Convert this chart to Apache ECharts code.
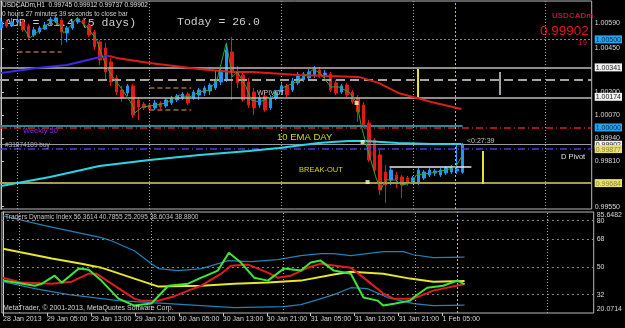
<!DOCTYPE html>
<html><head><meta charset="utf-8">
<script src="https://cdn.jsdelivr.net/npm/echarts@6/dist/echarts.min.js"></script>
<style>html,body{margin:0;padding:0;background:#000}#c{width:625px;height:328px}</style>
</head><body><div id="c"></div>
<script>
// ---- data (bar index 0 = 28 Jan 21:00, H1 bars) ----
const candles = [ // [open, close, low, high]
[1.00565,1.00599,1.00554,1.00622],[1.00599,1.00576,1.00565,1.00610],[1.00576,1.00599,1.00571,1.00622],
[1.00599,1.00610,1.00588,1.00627],[1.00599,1.00554,1.00542,1.00610],[1.00576,1.00514,1.00503,1.00588],
[1.00525,1.00554,1.00514,1.00571],[1.00542,1.00565,1.00531,1.00576],[1.00559,1.00582,1.00554,1.00599],
[1.00588,1.00616,1.00582,1.00627],[1.00605,1.00622,1.00593,1.00633],[1.00610,1.00542,1.00468,1.00622],
[1.00537,1.00565,1.00485,1.00576],[1.00565,1.00599,1.00554,1.00605],[1.00599,1.00616,1.00588,1.00627],
[1.00610,1.00588,1.00576,1.00622],[1.00582,1.00525,1.00514,1.00593],[1.00542,1.00457,1.00440,1.00554],
[1.00485,1.00383,1.00355,1.00497],[1.00451,1.00315,1.00270,1.00480],[1.00372,1.00258,1.00236,1.00395],
[1.00281,1.00201,1.00184,1.00298],[1.00213,1.00167,1.00145,1.00236],[1.00196,1.00236,1.00179,1.00247],
[1.00236,1.00071,1.00054,1.00247],[1.00156,1.00116,1.00042,1.00173],[1.00133,1.00111,1.00099,1.00145],
[1.00128,1.00105,1.00088,1.00139],[1.00111,1.00139,1.00099,1.00156],[1.00139,1.00116,1.00105,1.00150],
[1.00122,1.00156,1.00111,1.00167],[1.00139,1.00167,1.00128,1.00179],[1.00156,1.00179,1.00145,1.00190],
[1.00167,1.00190,1.00156,1.00201],[1.00190,1.00139,1.00128,1.00201],[1.00167,1.00201,1.00156,1.00213],
[1.00184,1.00213,1.00156,1.00224],[1.00196,1.00224,1.00179,1.00236],[1.00207,1.00241,1.00184,1.00253],
[1.00224,1.00270,1.00213,1.00326],[1.00258,1.00315,1.00241,1.00338],[1.00270,1.00440,1.00258,1.00480],
[1.00429,1.00315,1.00156,1.00514],[1.00315,1.00253,1.00224,1.00349],[1.00298,1.00156,1.00145,1.00315],
[1.00258,1.00128,1.00111,1.00281],[1.00201,1.00111,1.00071,1.00224],[1.00128,1.00167,1.00111,1.00184],
[1.00179,1.00099,1.00088,1.00196],[1.00111,1.00167,1.00099,1.00184],[1.00167,1.00201,1.00156,1.00213],
[1.00201,1.00236,1.00190,1.00253],[1.00236,1.00184,1.00173,1.00247],[1.00213,1.00264,1.00201,1.00281],
[1.00253,1.00292,1.00241,1.00315],[1.00270,1.00304,1.00258,1.00315],[1.00281,1.00315,1.00270,1.00332],
[1.00298,1.00338,1.00281,1.00349],[1.00326,1.00292,1.00281,1.00343],[1.00292,1.00309,1.00270,1.00326],
[1.00304,1.00213,1.00201,1.00315],[1.00253,1.00196,1.00184,1.00270],[1.00201,1.00236,1.00190,1.00247],
[1.00241,1.00184,1.00173,1.00253],[1.00201,1.00145,1.00133,1.00213],[1.00167,1.00088,1.00031,1.00184],
[1.00128,1.00014,0.99997,1.00145],[1.00025,0.99815,0.99804,1.00042],[0.99929,0.99758,0.99747,0.99940],
[0.99844,0.99645,0.99616,0.99872],[0.99747,0.99673,0.99571,0.99787],[0.99702,0.99758,0.99673,0.99770],
[0.99730,0.99702,0.99656,0.99747],[0.99719,0.99673,0.99599,0.99730],[0.99713,0.99685,0.99668,0.99724],
[0.99690,0.99713,0.99679,0.99724],[0.99685,0.99758,0.99673,0.99770],[0.99713,0.99747,0.99702,0.99758],
[0.99730,0.99758,0.99719,0.99770],[0.99741,0.99753,0.99724,0.99764],[0.99730,0.99758,0.99719,0.99770],
[0.99741,0.99770,0.99730,0.99781],[0.99747,0.99775,0.99736,0.99787],[0.99753,0.99764,0.99736,0.99900],
[0.99745,0.99902,0.99737,0.99912]
];
const greenLine = [[4,1.00571],[5.2,1.00508],[7.6,1.00565],[9.4,1.00610],[10.7,1.00582],[11.4,1.00537],[12.5,1.00571],[13.8,1.00622],[15.8,1.00565],[17.4,1.00497],[18,1.00440],[19.2,1.00343],[20.7,1.00270],[22.1,1.00213],[23.9,1.00128],[24.3,1.00082],[25.7,1.00116],[28.3,1.00128],[30.1,1.00139],[32.4,1.00184],[34.3,1.00173],[36.1,1.00201],[37.9,1.00213],[39.3,1.00270],[41,1.00480],[42.1,1.00287],[43,1.00315],[44.6,1.00230],[45.5,1.00156],[47,1.00145],[49.3,1.00173],[51.1,1.00224],[53.7,1.00258],[56,1.00309],[56.9,1.00332],[58.4,1.00298],[60,1.00230],[61.5,1.00230],[63.3,1.00201],[64.7,1.00145],[65.6,1.00003],[66.9,0.99855],[68.2,0.99719],[69.1,0.99645],[70,0.99702],[71.8,0.99702],[72.9,0.99673],[74.7,0.99685],[75.6,0.99730],[78.3,0.99741],[80.9,0.99758],[82.7,0.99775],[83.8,0.99832]];
const maRising = [[0,1.00309],[6.5,1.00338],[12,1.00355],[18,1.00400],[19.7,1.00406]];
const maFalling = [[19.7,1.00406],[21,1.00395],[27,1.00366],[36,1.00332],[42,1.00315],[45.7,1.00315],[54.2,1.00298],[59.6,1.00292],[65.1,1.00287],[68.7,1.00253],[72.3,1.00196],[78.3,1.00145],[83.8,1.00105]];
const ema10Day = [[0,0.99668],[8.9,0.99719],[17.9,0.99781],[27,0.99815],[36.1,0.99844],[45.1,0.99866],[50.6,0.99883],[57.8,0.99912],[60.2,0.99917],[63.3,0.99923],[66.3,0.99923],[72.3,0.99912],[78.3,0.99906],[83.8,0.99906]];
const weekly50 = [[0,1.00008],[84,1.00008]];
const signalDots = [[64.7,1.00139],[65.8,0.99917],[66.7,0.99690]];
// horizontal levels
const resistLevel = 1.00500, upperLevel = 1.00341, dashLevel = 1.00269, lowerLevel = 1.00170;
const parityLevel = 1.00000, bidPrice = 0.99902, dPivot = 0.99877, breakLow = 0.99684;
const breakHigh = [70.7, 85.6, 0.99775];               // [fromBar, toBar, price]
const brownDashes = [[3,11,1.00429],[27,34.6,1.00224],[27,34.6,1.00099]];
const orangeDots = [[51,59.3,1.00338],[51,59.3,1.00167]];
const yellowBars = [[75.8,1.00332,1.00173],[87.6,0.99866,0.99679]]; // [bar, top, bottom]
const whiteBars = [[90.7,1.00315,1.00184]];
// grid / ticks
const dayLines = [3,27,51,75,99];
const nowBar = 82.7;
const timeTicks = [0,8,16,24,32,40,48,56,64,72,80];
const timeLabels = ['28 Jan 2013','29 Jan 05:00','29 Jan 13:00','29 Jan 21:00','30 Jan 05:00','30 Jan 13:00','30 Jan 21:00','31 Jan 05:00','31 Jan 13:00','31 Jan 21:00','1 Feb 05:00'];
const priceTicks = [1.00590,1.00450,1.00200,1.00070,0.99940,0.99810,0.99550];
const blueBoxes = [1.00500,1.00000];
const whiteBoxes = [1.00341,1.00174,0.99902];
const yellowBoxes = [0.99877,0.99684];
const tdiTicks = [80,68,85.6482,50,32,20.0714];
const tdiLevels = [80,68,50,32];
// Traders Dynamic Index
const tdiUpper = [[0,83.2],[7.6,76.8],[17.9,69.0],[19.7,67.0],[23.9,60.5],[27,52.0],[28.3,48.9],[31.9,47.6],[36.1,48.9],[41,54.1],[45.1,53.4],[50,54.7],[54.2,57.3],[57.8,58.6],[60.2,58.6],[63.3,57.3],[69.2,59.9],[72.9,59.9],[74.7,57.9],[78.3,56.0],[84,56.36]];
const tdiLower = [[0,40.4],[5.8,35.9],[12,32.0],[21,28.1],[30.1,26.2],[42.1,23.6],[51.1,24.2],[54.2,25.5],[57.3,28.8],[60.2,32.0],[63.3,36.5],[66.3,35.9],[70,30.1],[74.7,26.2],[78.3,24.9],[84,25.21]];
const tdiMid = [[0,61.8],[8.9,55.4],[14.3,52.1],[17.9,49.5],[23.9,42.4],[28.3,37.2],[36.1,37.8],[42.1,39.1],[48.2,39.8],[54.2,41.1],[60.2,45.0],[63.3,46.9],[69.2,45.6],[74.1,42.4],[78.3,40.4],[84,40.79]];
const tdiSignal = [[0,43.0],[3.4,39.8],[8.9,39.1],[12.5,40.4],[15.6,45.6],[17,45.6],[20.3,37.8],[23.9,29.4],[25.2,28.1],[28.3,28.1],[31.2,31.0],[33.7,34.6],[36.1,37.8],[39.7,45.6],[41.5,50.8],[44.6,51.5],[48.2,46.3],[50,43.0],[52.4,44.3],[55.5,49.5],[57.8,52.1],[63.3,49.5],[66.3,41.1],[69.2,32.7],[71.1,29.4],[74.7,29.4],[78.3,34.6],[84,38.88]];
const tdiRsi = [[0,41.1],[5.8,37.8],[7.1,39.1],[9.4,44.3],[10.7,39.8],[13.8,48.9],[15.6,48.2],[17.9,41.1],[21,29.4],[23.9,24.9],[27,26.2],[30.1,37.8],[33.7,39.1],[36.1,43.0],[39.1,47.6],[41.1,59.2],[43.3,52.8],[45.7,43.0],[48.2,41.1],[51.1,48.9],[54.2,47.6],[56,52.8],[57.8,54.1],[60.2,47.6],[63.3,45.6],[65.6,30.1],[68.2,28.1],[69.2,24.9],[71.4,26.2],[74.1,28.1],[74.7,30.1],[77.2,36.5],[80.1,37.8],[82.7,41.1],[84,38.6]];

// ---- chart ----
const X0 = -0.2, X1 = 107.5, P0 = 0.99537, P1 = 1.00718, T0 = 20.0714, T1 = 85.6482;
const chart = echarts.init(document.getElementById('c'), null, {renderer:'canvas'});
const F = "'Liberation Sans', Arial, sans-serif";
const key = v => v.toFixed(5);
const boxKind = {};
blueBoxes.forEach(v => boxKind[key(v)] = 'b');
whiteBoxes.forEach(v => boxKind[key(v)] = 'w');
yellowBoxes.forEach(v => boxKind[key(v)] = 'y');

const seg = (x0, x1, v, color, type, width) => [{coord:[x0, v], lineStyle:{color, type, width}}, {coord:[x1, v]}];
const hLine = (v, color, type, width) => seg(X0, X1, v, color, type, width);
const vseg = (x, v0, v1, color, type, width) => [{coord:[x, v0], lineStyle:{color, type, width}}, {coord:[x, v1]}];
const vLines = (lo, hi) => dayLines.map(d => vseg(d, lo, hi, '#a8a8a8', [1,2], 1))
   .concat([vseg(nowBar, lo, hi, '#d8c030', [2,2], 1)]);

const mlBase = {symbol:['none','none'], silent:true, animation:false, label:{show:false}};
const lineS = (data, color, width, xi, yi, z) => ({type:'line', data, xAxisIndex:xi, yAxisIndex:yi, showSymbol:false, symbol:'none', lineStyle:{color, width}, z: z||3, animation:false, silent:true});

const option = {
  backgroundColor:'#000',
  animation:false,
  grid:[
    {left:0, top:1, width:594, height:208, show:true, borderColor:'#b8b8b8', borderWidth:1, backgroundColor:'transparent'},
    {left:0, top:212, width:594, height:101, show:true, borderColor:'#b8b8b8', borderWidth:1, backgroundColor:'transparent'}
  ],
  xAxis:[
    {type:'value', gridIndex:0, min:X0, max:X1, axisLine:{show:false}, axisTick:{show:false}, axisLabel:{show:false}, splitLine:{show:false}},
    {type:'value', gridIndex:1, min:X0, max:X1, axisLine:{show:false}, splitLine:{show:false},
     axisTick:{show:true, customValues:timeTicks, length:3, lineStyle:{color:'#c8c8c8'}},
     axisLabel:{show:true, customValues:timeTicks, color:'#d8d8d8', fontSize:7, fontFamily:F, align:'left', margin:3,
       showMinLabel:true, showMaxLabel:true,
       formatter: v => timeLabels[timeTicks.indexOf(v)] || ''}}
  ],
  yAxis:[
    {type:'value', gridIndex:0, position:'right', min:P0, max:P1,
     axisLine:{show:true, lineStyle:{color:'#c8c8c8'}}, splitLine:{show:false},
     axisTick:{show:true, customValues:priceTicks, length:3, lineStyle:{color:'#c8c8c8'}},
     axisLabel:{show:true, customValues: priceTicks.concat(blueBoxes, whiteBoxes, yellowBoxes), margin:3, fontFamily:F, fontSize:7, color:'#d8d8d8',
       showMinLabel:true, showMaxLabel:true,
       formatter: v => { const k = boxKind[key(v)]; const t = key(v); return k ? '{' + k + '|' + t + '}' : t; },
       rich:{
         b:{backgroundColor:'#27a6ee', color:'#0a2a40', fontSize:7, fontFamily:F, padding:[1,1,0,1]},
         w:{backgroundColor:'#f2f2f2', color:'#202020', fontSize:7, fontFamily:F, padding:[1,1,0,1]},
         y:{backgroundColor:'#e8e070', color:'#8a8440', fontSize:7, fontFamily:F, padding:[1,1,0,1]}
       }}},
    {type:'value', gridIndex:1, position:'right', min:T0, max:T1,
     axisLine:{show:true, lineStyle:{color:'#c8c8c8'}}, splitLine:{show:false},
     axisTick:{show:false},
     axisLabel:{show:true, customValues:tdiTicks, margin:3, fontFamily:F, fontSize:7, color:'#d8d8d8',
       hideOverlap:false,
       formatter: v => {
         if (Math.abs(v - T1) < 1e-3) return '{top|' + T1.toFixed(4) + '}';
         if (Math.abs(v - T0) < 1e-3) return '{bot|' + T0.toFixed(4) + '}';
         return String(Math.round(v));
       },
       rich:{
         top:{fontSize:7, fontFamily:F, color:'#d8d8d8', padding:[7,0,0,0]},
         bot:{fontSize:7, fontFamily:F, color:'#d8d8d8', padding:[0,0,7,0]}
       }}}
  ],
  series:[
    {type:'candlestick', xAxisIndex:0, yAxisIndex:0, barWidth:3, z:4, animation:false, silent:true,
     data: candles.map((c, i) => [i, c[0], c[1], c[2], c[3]]),
     encode:{x:0, y:[1,2,3,4]},
     itemStyle:{color:'#2196f5', color0:'#e41818', borderColor:'#2196f5', borderColor0:'#e41818', borderWidth:1},
     markLine: Object.assign({}, mlBase, {data: [
        hLine(resistLevel, '#2aa6d0', [2,2], 1),
        hLine(upperLevel, '#bdbdbd', 'solid', 1.5),
        hLine(dashLevel, '#a9a39a', [9,5], 2),
        hLine(lowerLevel, '#bdbdbd', 'solid', 1.5),
        hLine(parityLevel, '#d42020', [7,3,1,3], 1.5),
        hLine(bidPrice, '#9a9a9a', 'solid', 1),
        hLine(dPivot, '#4a3ae0', [7,3,1,3], 1.5),
        hLine(breakLow, '#a89a50', 'solid', 2),
        seg(breakHigh[0], breakHigh[1], breakHigh[2], '#e8e8e8', 'solid', 1.5),
        ...brownDashes.map(b => seg(b[0], b[1], b[2], '#9a6a3a', [5,3], 1.5)),
        ...orangeDots.map(b => seg(b[0], b[1], b[2], '#b0703a', [1,2], 1.5)),
        ...yellowBars.map(b => vseg(b[0], b[1], b[2], '#e8e030', 'solid', 2)),
        ...whiteBars.map(b => vseg(b[0], b[1], b[2], '#d8d8d8', 'solid', 1.5)),
        ...vLines(P0, P1)
     ]})},
    lineS(weekly50, '#2a8a9a', 2, 0, 0, 3),
    lineS(ema10Day, '#2ad6e6', 2, 0, 0, 5),
    lineS(maRising, '#3a2ce0', 2, 0, 0, 5),
    lineS(maFalling, '#dc1c1c', 2, 0, 0, 5),
    lineS(greenLine, '#2ea82e', 1, 0, 0, 6),
    {type:'scatter', xAxisIndex:0, yAxisIndex:0, data:signalDots, symbol:'rect', symbolSize:4, itemStyle:{color:'#ffffb0'}, z:7, silent:true, animation:false},
    Object.assign(lineS(tdiUpper, '#1f82b8', 1.2, 1, 1, 3), {markLine: Object.assign({}, mlBase, {data:[
        ...tdiLevels.map(v => seg(X0, X1, v, '#8a8a8a', [2,3], 1)),
        ...vLines(T0, T1)
    ]})}),
    lineS(tdiLower, '#1f82b8', 1.2, 1, 1, 3),
    lineS(tdiMid, '#e6e62a', 2, 1, 1, 4),
    lineS(tdiSignal, '#e01c1c', 2, 1, 1, 5),
    lineS(tdiRsi, '#3ae63a', 2, 1, 1, 6)
  ],
  graphic:[
    {type:'text', x:5, y:23, z:0, style:{text:'ADR = 31.4 (5 days)', font:"11.5px 'Liberation Mono', monospace", fill:'#cfcfcf', verticalAlign:'middle'}},
    {type:'text', x:177, y:22, z:0, style:{text:'Today = 26.0', font:"11.5px 'Liberation Mono', monospace", fill:'#cfcfcf', verticalAlign:'middle'}},
    {type:'text', x:2, y:5, z:10, style:{text:'USDCADm,H1  0.99745 0.99912 0.99737 0.99902', font:"6.5px "+F, fill:'#e0e0e0', verticalAlign:'middle'}},
    {type:'text', x:2, y:14, z:10, style:{text:'0 hours 27 minutes 39 seconds to close bar', font:"6.5px "+F, fill:'#d0d0d0', verticalAlign:'middle'}},
    {type:'text', x:552, y:16, z:10, style:{text:'USDCADm', font:"bold 8px "+F, fill:'#b8143c', verticalAlign:'middle'}},
    {type:'text', x:540, y:31, z:10, style:{text:'0.99902', font:"13.5px "+F, fill:'#e8101e', verticalAlign:'middle'}},
    {type:'text', x:578, y:43, z:10, style:{text:'19', font:"8px "+F, fill:'#c8143c', verticalAlign:'middle'}},
    {type:'text', x:257, y:93, z:10, style:{text:'WPIVOT', font:"7px "+F, fill:'#c8c8c8', verticalAlign:'middle'}},
    {type:'text', x:23, y:131, z:10, style:{text:'Weekly 50', font:"7.5px "+F, fill:'#8a2cd8', verticalAlign:'middle'}},
    {type:'text', x:5, y:145, z:10, style:{text:'#31874189 buy', font:"6.5px "+F, fill:'#b0b0b0', verticalAlign:'middle'}},
    {type:'text', x:277, y:137, z:10, style:{text:'10 EMA DAY', font:"9.5px "+F, fill:'#d8d820', verticalAlign:'middle'}},
    {type:'text', x:299, y:170, z:10, style:{text:'BREAK-OUT', font:"7.5px "+F, fill:'#d8d820', verticalAlign:'middle'}},
    {type:'text', x:467, y:141, z:10, style:{text:'<0:27:39', font:"7px "+F, fill:'#c8c8c8', verticalAlign:'middle'}},
    {type:'text', x:561, y:157, z:10, style:{text:'D Pivot', font:"7.5px "+F, fill:'#e0e0e0', verticalAlign:'middle'}},
    {type:'text', x:5, y:217, z:10, style:{text:'Traders Dynamic Index 56.3614 40.7855 25.2095 38.6034 38.8800', font:"6.5px "+F, fill:'#c8c8c8', verticalAlign:'middle'}},
    {type:'text', x:3, y:308, z:10, style:{text:'MetaTrader, \u00a9 2001-2013, MetaQuotes Software Corp.', font:"7px "+F, fill:'#d8d8d8', verticalAlign:'middle'}}
  ]
};
chart.setOption(option);
</script></body></html>
